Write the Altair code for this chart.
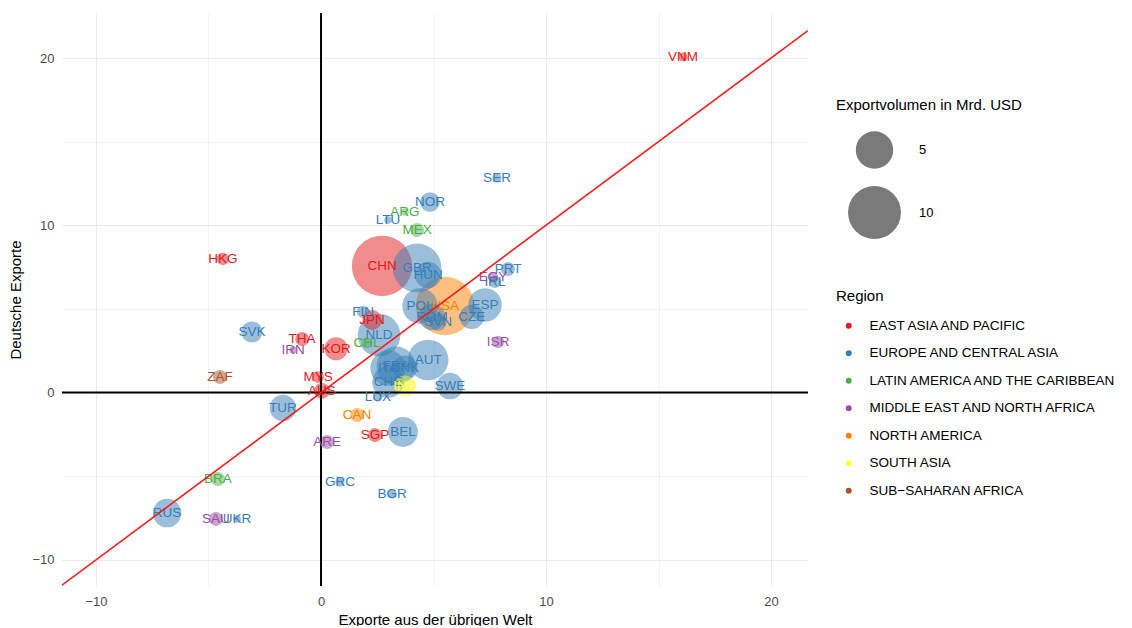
import altair as alt
import pandas as pd

# ---- data ----
countries = ["VNM", "SER", "NOR", "ARG", "LTU", "MEX", "CHN", "GBR", "HUN", "PRT",
             "EGY", "IRL", "POL", "USA", "ESP", "ROM", "CZE", "SVN", "FIN", "JPN",
             "NLD", "CHL", "ISR", "KOR", "THA", "IRN", "SVK", "HKG", "ZAF", "MYS",
             "AUS", "AUT", "FRA", "ITA", "DNK", "CHE", "IND", "SWE", "LUX", "TUR",
             "CAN", "ARE", "SGP", "BEL", "BRA", "GRC", "BGR", "RUS", "SAU", "UKR"]

EAP = "EAST ASIA AND PACIFIC"
ECA = "EUROPE AND CENTRAL ASIA"
LAC = "LATIN AMERICA AND THE CARIBBEAN"
MNA = "MIDDLE EAST AND NORTH AFRICA"
NAM = "NORTH AMERICA"
SAS = "SOUTH ASIA"
SSA = "SUB\u2212SAHARAN AFRICA"

regions = [EAP, ECA, ECA, LAC, ECA, LAC, EAP, ECA, ECA, ECA,
           MNA, ECA, ECA, NAM, ECA, ECA, ECA, ECA, ECA, EAP,
           ECA, LAC, MNA, EAP, EAP, MNA, ECA, EAP, SSA, EAP,
           EAP, ECA, ECA, ECA, ECA, ECA, SAS, ECA, ECA, ECA,
           NAM, MNA, EAP, ECA, LAC, ECA, ECA, ECA, MNA, ECA]

exports_world = [16.09, 7.82, 4.84, 3.73, 2.98, 4.27, 2.71, 4.27, 4.76, 8.31,
                 7.64, 7.73, 4.40, 5.51, 7.29, 4.93, 6.70, 5.20, 1.87, 2.27,
                 2.58, 2.04, 7.87, 0.67, -0.84, -1.24, -3.07, -4.36, -4.49, -0.13,
                 0.04, 4.76, 3.33, 2.98, 3.73, 2.98, 3.73, 5.73, 2.53, -1.69,
                 1.60, 0.27, 2.40, 3.64, -4.58, 0.84, 3.16, -6.84, -4.67, -3.73]

exports_de = [20.06, 12.83, 11.39, 10.80, 10.32, 9.72, 7.57, 7.45, 7.03, 7.39,
              6.91, 6.61, 5.18, 5.18, 5.24, 4.52, 4.52, 4.22, 4.82, 4.34,
              3.44, 2.96, 3.02, 2.62, 3.20, 2.55, 3.62, 7.99, 0.93, 0.93,
              0.10, 1.95, 1.59, 1.47, 1.47, 0.63, 0.39, 0.39, -0.26, -0.92,
              -1.34, -2.95, -2.53, -2.35, -5.17, -5.35, -6.06, -7.20, -7.55, -7.55]

volumes = [0.3, 0.3, 1.4, 0.2, 0.2, 0.7, 13.0, 8.5, 2.5, 0.7,
           0.4, 0.5, 4.5, 12.2, 4.0, 2.5, 2.1, 1.1, 0.55, 1.4,
           6.5, 0.4, 0.55, 1.9, 0.7, 0.2, 1.6, 0.55, 0.7, 0.5,
           0.9, 5.9, 5.4, 4.5, 2.2, 3.6, 1.6, 2.5, 0.3, 2.5,
           0.7, 0.7, 0.7, 3.2, 0.7, 0.3, 0.3, 2.9, 0.7, 0.2]

region_order = [EAP, ECA, LAC, MNA, NAM, SAS, SSA]
region_colors = ["#E41A1C", "#377EB8", "#4DAF4A", "#984EA3", "#FF7F00", "#FFFF33", "#A65628"]

x_domain = [-11.51, 21.64]
y_domain = [-11.56, 22.69]
grid_ticks = [-10, -5, 0, 5, 10, 15, 20]
legend_sizes = [5, 10]

df = pd.DataFrame({
    "country": countries,
    "region": regions,
    "xw": exports_world,
    "yd": exports_de,
    "vol": volumes,
})

# reference line y = x spanning the panel
ref_df = pd.DataFrame({"xw": x_domain, "yd": x_domain})
zero_df = pd.DataFrame({"v": [0]})

FONT = "Liberation Sans"

grid_width = {"condition": {"test": "datum.value % 10 === 0", "value": 1.1}, "value": 0.6}

x_enc = alt.X("xw:Q", scale=alt.Scale(domain=x_domain, nice=False, zero=False),
              axis=alt.Axis(values=grid_ticks,
                            labelExpr="datum.value % 10 === 0 ? datum.label : ''",
                            title="Exporte aus der übrigen Welt",
                            gridWidth=grid_width))
y_enc = alt.Y("yd:Q", scale=alt.Scale(domain=y_domain, nice=False, zero=False),
              axis=alt.Axis(values=grid_ticks,
                            labelExpr="datum.value % 10 === 0 ? datum.label : ''",
                            title="Deutsche Exporte",
                            gridWidth=grid_width))

color_enc = alt.Color("region:N",
                      scale=alt.Scale(domain=region_order, range=region_colors),
                      legend=alt.Legend(title="Region", orient="none",
                                        legendX=774, legendY=276,
                                        symbolType="circle", symbolSize=35,
                                        symbolOpacity=1, symbolStrokeWidth=0,
                                        symbolOffset=6, labelOffset=14,
                                        labelFontSize=13.5,
                                        rowPadding=12.5, titlePadding=15,
                                        labelLimit=400, padding=0))

size_enc = alt.Size("vol:Q",
                    scale=alt.Scale(domain=[0, 10], range=[0, 2800]),
                    legend=alt.Legend(title="Exportvolumen in Mrd. USD", orient="none",
                                      legendX=774, legendY=85, values=legend_sizes,
                                      titleLimit=400,
                                      symbolFillColor="#7a7a7a", symbolStrokeColor="#7a7a7a",
                                      symbolStrokeWidth=0, symbolOpacity=1,
                                      symbolOffset=12, labelOffset=18,
                                      rowPadding=17, titlePadding=18, padding=0))

points = alt.Chart(df).mark_circle(opacity=0.5, stroke=None).encode(
    x=x_enc, y=y_enc, size=size_enc, color=color_enc,
    order=alt.Order("vol:Q", sort="descending"),
)

labels = alt.Chart(df).mark_text(fontSize=13.5, font=FONT).encode(
    x="xw:Q", y="yd:Q", text="country:N",
    color=alt.Color("region:N", legend=None),
)

hline = alt.Chart(zero_df).mark_rule(color="black", strokeWidth=2).encode(y="v:Q")
vline = alt.Chart(zero_df).mark_rule(color="black", strokeWidth=2).encode(x="v:Q")
ref = alt.Chart(ref_df).mark_line(color="#ff1a1a", strokeWidth=1.6, clip=True).encode(
    x="xw:Q", y="yd:Q")

chart = alt.layer(points, hline, vline, labels, ref).resolve_scale(
    color="shared"
).properties(
    width=746, height=573,
    autosize=alt.AutoSizeParams(type="none"),
    padding={"left": 54, "top": 5, "right": 316, "bottom": 40},
).configure_view(stroke=None).configure_axis(
    domain=False, ticks=False, gridColor="#ebebeb",
    labelFont=FONT, labelFontSize=13, labelColor="#4d4d4d",
    titleFont=FONT, titleFontSize=15, titleColor="#000000", titleFontWeight="normal",
).configure_axisX(labelPadding=9, titlePadding=4).configure_axisY(
    labelPadding=8, titlePadding=8
).configure_legend(
    titleFont=FONT, titleFontSize=15, titleFontWeight="normal", titleColor="#000000",
    labelFont=FONT, labelFontSize=13, labelColor="#000000",
)

chart.save("out.html", embed_options={"renderer": "svg", "actions": False})
